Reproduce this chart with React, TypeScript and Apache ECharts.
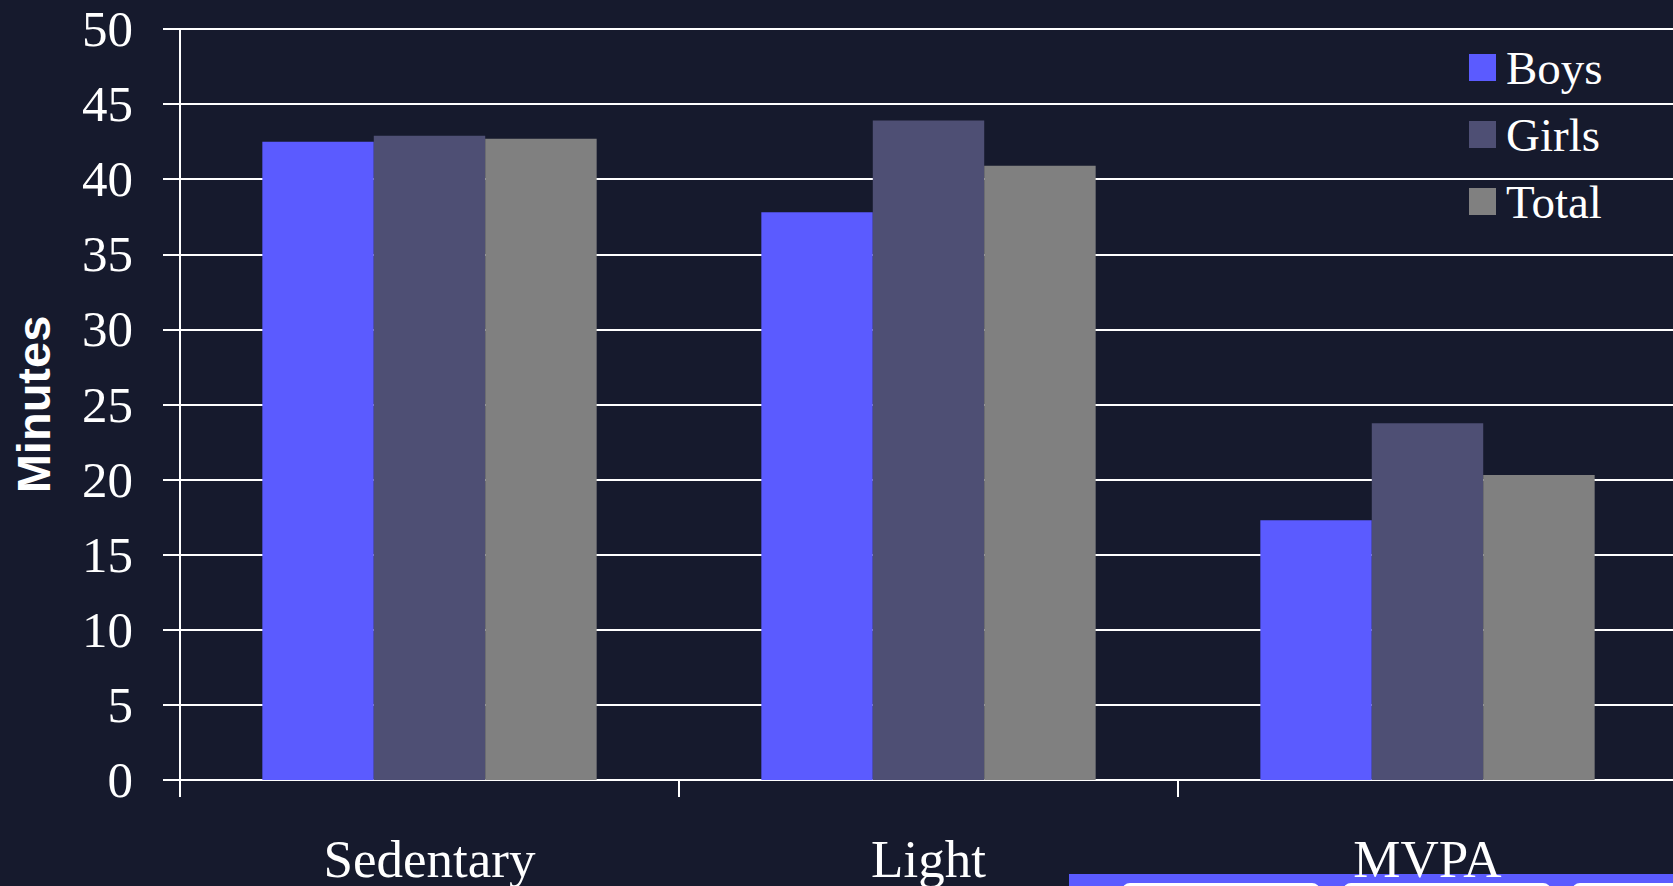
import React, { useEffect, useRef } from "react";
import * as echarts from "echarts";

// Minutes spent at each activity intensity, by group
const categories = ["Sedentary", "Light", "MVPA"];
const boys = [42.5, 37.8, 17.3];
const girls = [42.9, 43.9, 23.75];
const total = [42.7, 40.9, 20.3];
const seriesNames = ["Boys", "Girls", "Total"];

const BG = "#161a2d";
const COLORS = ["#5b5bff", "#4e4f74", "#808080"];
const SERIF = '"Liberation Serif", "Times New Roman", serif';
const SANS = '"Liberation Sans", Arial, sans-serif';

export default function App() {
  const ref = useRef<HTMLDivElement>(null);

  useEffect(() => {
    if (!ref.current) return;
    const chart = echarts.init(ref.current, null, { renderer: "svg" });
    const values = [boys, girls, total];

    chart.setOption({
      animation: false,
      backgroundColor: BG,
      grid: {
        left: 180,
        top: 29,
        bottom: 106,
        width: 1497,
        containLabel: false,
        outerBoundsMode: "none",
      },
      legend: {
        orient: "vertical",
        left: 1464,
        top: 39,
        icon: "rect",
        itemWidth: 27,
        itemHeight: 27,
        itemGap: 20,
        selectedMode: false,
        data: seriesNames,
        textStyle: {
          color: "#ffffff",
          fontFamily: SERIF,
          fontSize: 47,
          lineHeight: 47,
          padding: [0, 0, 0, 5],
        },
      },
      xAxis: {
        type: "category",
        data: categories,
        axisLine: { show: true, lineStyle: { color: "#ffffff", width: 2 } },
        axisTick: { show: true, length: 17, lineStyle: { color: "#ffffff", width: 2 } },
        axisLabel: {
          color: "#ffffff",
          fontFamily: SERIF,
          fontSize: 53,
          lineHeight: 53,
          margin: 52,
        },
        splitLine: { show: false },
      },
      yAxis: {
        type: "value",
        min: 0,
        max: 50,
        interval: 5,
        name: "Minutes",
        nameLocation: "middle",
        nameRotate: 90,
        nameGap: 123,
        nameTextStyle: {
          color: "#ffffff",
          fontFamily: SANS,
          fontWeight: "bold",
          fontSize: 47,
          lineHeight: 47,
        },
        axisLine: { show: true, lineStyle: { color: "#ffffff", width: 2 } },
        axisTick: { show: true, length: 17, lineStyle: { color: "#ffffff", width: 2 } },
        axisLabel: {
          color: "#ffffff",
          fontFamily: SERIF,
          fontSize: 51,
          margin: 47,
        },
        splitLine: { show: true, lineStyle: { color: "#ffffff", width: 2 } },
      },
      series: seriesNames.map((name, i) => ({
        name,
        type: "bar",
        data: values[i],
        barGap: "0%",
        barCategoryGap: "33%",
        itemStyle: { color: COLORS[i] },
        z: 3,
      })),
      graphic: [
        {
          type: "group",
          z: 100,
          children: [
            { type: "rect", shape: { x: 1069, y: 874, width: 620, height: 20 }, style: { fill: "#5b5bff" } },
            { type: "rect", shape: { x: 1122, y: 883, width: 198, height: 20, r: 8 }, style: { fill: "#ffffff" } },
            { type: "rect", shape: { x: 1343, y: 883, width: 208, height: 20, r: 8 }, style: { fill: "#ffffff" } },
            { type: "rect", shape: { x: 1572, y: 883, width: 200, height: 20, r: 8 }, style: { fill: "#ffffff" } },
          ],
        },
      ],
    });

    return () => chart.dispose();
  }, []);

  return (
    <div
      ref={ref}
      style={{ position: "fixed", left: 0, top: 0, width: 1673, height: 886, background: BG }}
    />
  );
}
